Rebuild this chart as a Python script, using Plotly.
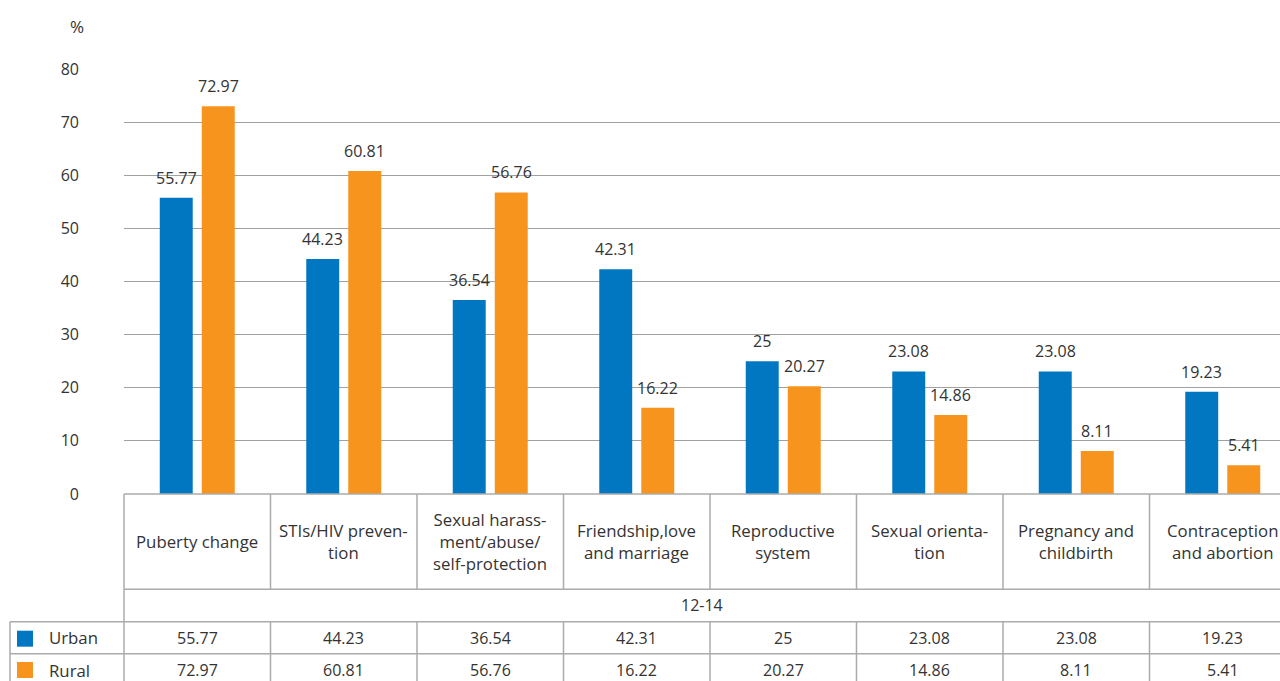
import plotly.graph_objects as go

categories = [
    "Puberty change",
    "STIs/HIV preven-<br>tion",
    "Sexual harass-<br>ment/abuse/<br>self-protection",
    "Friendship,love<br>and marriage",
    "Reproductive<br>system",
    "Sexual orienta-<br>tion",
    "Pregnancy and<br>childbirth",
    "Contraception<br>and abortion",
]
urban = [55.77, 44.23, 36.54, 42.31, 25, 23.08, 23.08, 19.23]
rural = [72.97, 60.81, 56.76, 16.22, 20.27, 14.86, 8.11, 5.41]
series_names = ["Urban", "Rural"]
age_group = "12-14"
y_ticks = [0, 10, 20, 30, 40, 50, 60, 70, 80]

BLUE = "#0077C0"
ORANGE = "#F7941E"
TEXT = "#333333"
LINE = "#ababab"
FONT = "Open Sans"

W, H = 1280, 681
L, T, B = 124, 69, 187
PW = W - L
PH = H - T - B

def px_x(p):
    return (p - L) / PW

def px_y(p):
    return (H - B - p) / PH

xs = list(range(len(categories)))
bw = 0.225
off = 0.1434

fig = go.Figure()
fig.add_trace(go.Bar(x=xs, y=urban, width=bw, offset=-off - bw / 2,
                     marker=dict(color=BLUE, line=dict(width=0)), name=series_names[0]))
fig.add_trace(go.Bar(x=xs, y=rural, width=bw, offset=off - bw / 2,
                     marker=dict(color=ORANGE, line=dict(width=0)), name=series_names[1]))

def fmt(v):
    return f"{v:g}"

NUMF = dict(size=16, color=TEXT, family=FONT)
TXTF = dict(size=16.8, color=TEXT, family=FONT)

ann = []
# data labels
for i, (u, r) in enumerate(zip(urban, rural)):
    ann.append(dict(x=i - off, y=u, xref="x", yref="y", text=fmt(u), showarrow=False,
                    yshift=20, yanchor="middle", font=NUMF))
    ann.append(dict(x=i + off, y=r, xref="x", yref="y", text=fmt(r), showarrow=False,
                    yshift=20, yanchor="middle", font=NUMF))

# table cells
for i, c in enumerate(categories):
    ann.append(dict(x=i, y=px_y(541.5), xref="x", yref="paper", text=c, showarrow=False,
                    yanchor="middle", align="center", font=TXTF))
    ann.append(dict(x=i, y=px_y(637.7), xref="x", yref="paper", text=fmt(urban[i]), showarrow=False,
                    yanchor="middle", font=NUMF))
    ann.append(dict(x=i, y=px_y(670), xref="x", yref="paper", text=fmt(rural[i]), showarrow=False,
                    yanchor="middle", font=NUMF))

ann.append(dict(x=0.5, y=px_y(605), xref="paper", yref="paper", text=age_group, showarrow=False,
                yanchor="middle", font=NUMF))
ann.append(dict(x=px_x(47), y=px_y(637.7), xref="paper", yref="paper", text=series_names[0], showarrow=False,
                xanchor="left", yanchor="middle", font=TXTF))
ann.append(dict(x=px_x(47), y=px_y(670), xref="paper", yref="paper", text=series_names[1], showarrow=False,
                xanchor="left", yanchor="middle", font=TXTF))
ann.append(dict(x=px_x(67.5), y=px_y(26), xref="paper", yref="paper", text="%", showarrow=False,
                yanchor="middle", font=dict(size=17, color=TEXT, family=FONT)))

shapes = []
def hline(y, x0, x1):
    shapes.append(dict(type="line", xref="paper", yref="paper", x0=x0, x1=x1, y0=px_y(y), y1=px_y(y),
                       line=dict(color=LINE, width=1.5)))

hline(494, 0, 1)
hline(589.3, 0, 1)
hline(621.7, px_x(10), 1)
hline(653.7, px_x(10), 1)
shapes.append(dict(type="line", xref="paper", yref="paper", x0=0, x1=0, y0=px_y(494), y1=px_y(690),
                   line=dict(color=LINE, width=1.5)))
shapes.append(dict(type="line", xref="paper", yref="paper", x0=px_x(10), x1=px_x(10),
                   y0=px_y(621.7), y1=px_y(690), line=dict(color=LINE, width=1.5)))
for i in range(len(categories) - 1):
    for (a, b) in [(494, 589.3), (621.7, 690)]:
        shapes.append(dict(type="line", xref="x", yref="paper", x0=i + 0.5, x1=i + 0.5,
                           y0=px_y(a), y1=px_y(b), line=dict(color=LINE, width=1.5)))
# legend swatches
for col, yc in [(BLUE, 638.7), (ORANGE, 670)]:
    shapes.append(dict(type="rect", xref="paper", yref="paper", x0=px_x(17), x1=px_x(33),
                       y0=px_y(yc - 8), y1=px_y(yc + 8), fillcolor=col, line=dict(width=0)))

fig.update_layout(
    width=W, height=H,
    margin=dict(l=L, r=0, t=T, b=B, pad=0),
    paper_bgcolor="white", plot_bgcolor="white",
    barmode="overlay", showlegend=False, hovermode=False,
    font=dict(family=FONT, size=16, color=TEXT),
    xaxis=dict(range=[-0.5, -0.5 + PW / 146.5], showticklabels=False, showgrid=False,
               zeroline=False, showline=False, fixedrange=True),
    yaxis=dict(range=[0, 80], tickvals=y_ticks, showgrid=True, gridcolor="#a0a0a0", gridwidth=1.2,
               zeroline=False, showline=False, ticks="", ticklabelstandoff=44,
               tickfont=dict(size=16, color=TEXT, family=FONT), fixedrange=True),
    annotations=ann, shapes=shapes,
)

fig.write_html("out.html", config={"displayModeBar": False},
               post_script="document.body.style.margin='0px';document.body.style.overflow='hidden';")
